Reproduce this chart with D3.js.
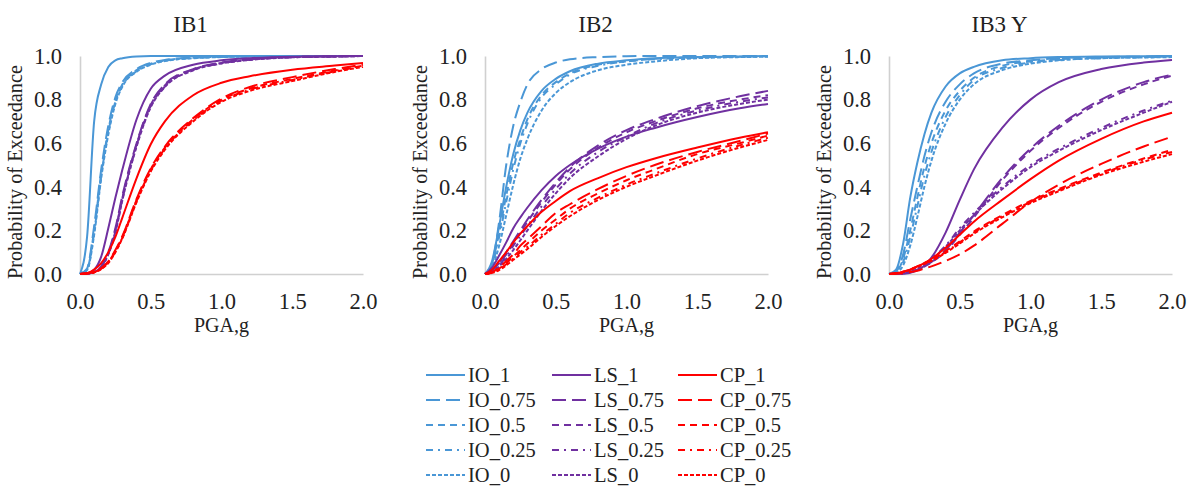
<!DOCTYPE html>
<html><head><meta charset="utf-8">
<script src="https://cdn.jsdelivr.net/npm/d3@7"></script>
<style>body{margin:0;background:#fff}svg{display:block}text{font-family:"Liberation Serif","Times New Roman",serif;fill:#222}</style>
</head><body><svg id="c" width="1196" height="488"></svg>
<script>
// ---- data ----
const pga = [0,0.05,0.1,0.15,0.2,0.25,0.3,0.4,0.5,0.6,0.8,1.0,1.2,1.5,1.8,2.0];
const titles = ["IB1","IB2","IB3 Y"];
const limitStates = ["IO","LS","CP"];
const levels = ["1","0.75","0.5","0.25","0"];
const xTicks = [0,0.5,1.0,1.5,2.0];
const yTicks = [0,0.2,0.4,0.6,0.8,1.0];

// IB1
const ib1_IO_1    = [0,0.17,0.70,0.87,0.95,0.98,0.99,0.998,1,1,1,1,1,1,1,1];
const ib1_IO_075  = [0,0.025,0.22,0.48,0.68,0.81,0.88,0.94,0.968,0.982,0.993,0.997,0.999,1,1,1];
const ib1_IO_05   = [0,0.02,0.20,0.46,0.66,0.80,0.87,0.935,0.965,0.98,0.992,0.996,0.998,1,1,1];
const ib1_IO_025  = [0,0.02,0.19,0.45,0.65,0.79,0.865,0.93,0.962,0.978,0.991,0.996,0.998,1,1,1];
const ib1_IO_0    = [0,0.018,0.18,0.44,0.64,0.78,0.86,0.928,0.96,0.977,0.99,0.995,0.998,1,1,1];
const ib1_LS_1    = [0,0.003,0.02,0.08,0.21,0.35,0.48,0.71,0.85,0.91,0.96,0.98,0.99,0.997,0.999,1];
const ib1_LS_075  = [0,0.001,0.01,0.035,0.10,0.21,0.36,0.60,0.78,0.87,0.94,0.97,0.985,0.995,0.998,1];
const ib1_LS_05   = [0,0.001,0.01,0.033,0.095,0.20,0.35,0.595,0.775,0.865,0.938,0.968,0.984,0.995,0.998,1];
const ib1_LS_025  = [0,0.001,0.009,0.032,0.092,0.195,0.345,0.59,0.77,0.86,0.936,0.967,0.983,0.994,0.998,1];
const ib1_LS_0    = [0,0.001,0.009,0.03,0.09,0.19,0.34,0.585,0.765,0.858,0.934,0.966,0.982,0.994,0.997,1];
const ib1_CP_1    = [0,0.003,0.02,0.05,0.10,0.17,0.26,0.44,0.595,0.70,0.82,0.877,0.907,0.937,0.956,0.968];
const ib1_CP_075  = [0,0.002,0.009,0.027,0.058,0.11,0.175,0.345,0.485,0.585,0.715,0.805,0.858,0.903,0.94,0.96];
const ib1_CP_05   = [0,0.002,0.008,0.025,0.055,0.105,0.17,0.34,0.48,0.58,0.71,0.80,0.85,0.895,0.933,0.955];
const ib1_CP_025  = [0,0.002,0.008,0.024,0.053,0.102,0.167,0.335,0.475,0.575,0.705,0.795,0.845,0.89,0.93,0.953];
const ib1_CP_0    = [0,0.002,0.007,0.023,0.05,0.10,0.165,0.33,0.47,0.57,0.70,0.79,0.84,0.885,0.927,0.95];

// IB2
const ib2_IO_1    = [0,0.06,0.22,0.40,0.55,0.66,0.74,0.84,0.895,0.93,0.965,0.98,0.99,0.995,0.998,1];
const ib2_IO_075  = [0,0.05,0.24,0.50,0.68,0.79,0.87,0.94,0.97,0.985,0.995,0.999,1,1,1,1];
const ib2_IO_05   = [0,0.05,0.19,0.36,0.51,0.62,0.71,0.82,0.88,0.92,0.96,0.975,0.987,0.994,0.997,0.999];
const ib2_IO_025  = [0,0.04,0.17,0.33,0.48,0.60,0.69,0.81,0.87,0.915,0.955,0.975,0.986,0.993,0.997,0.999];
const ib2_IO_0    = [0,0.03,0.13,0.27,0.41,0.53,0.62,0.75,0.83,0.88,0.935,0.96,0.975,0.99,0.995,0.997];
const ib2_LS_1    = [0,0.03,0.085,0.145,0.21,0.26,0.305,0.385,0.45,0.50,0.575,0.63,0.67,0.72,0.76,0.78];
const ib2_LS_075  = [0,0.015,0.05,0.10,0.15,0.20,0.25,0.34,0.42,0.49,0.59,0.66,0.71,0.77,0.815,0.84];
const ib2_LS_05   = [0,0.015,0.05,0.09,0.14,0.19,0.24,0.33,0.41,0.48,0.58,0.65,0.70,0.76,0.80,0.82];
const ib2_LS_025  = [0,0.012,0.04,0.08,0.13,0.175,0.22,0.31,0.39,0.46,0.56,0.63,0.69,0.75,0.79,0.81];
const ib2_LS_0    = [0,0.01,0.035,0.07,0.11,0.155,0.20,0.29,0.37,0.44,0.54,0.62,0.68,0.74,0.78,0.80];
const ib2_CP_1    = [0,0.02,0.06,0.10,0.145,0.185,0.22,0.285,0.335,0.38,0.44,0.49,0.53,0.58,0.625,0.65];
const ib2_CP_075  = [0,0.008,0.03,0.06,0.09,0.13,0.16,0.22,0.28,0.32,0.39,0.45,0.50,0.56,0.61,0.645];
const ib2_CP_05   = [0,0.007,0.025,0.05,0.08,0.11,0.14,0.20,0.25,0.30,0.37,0.43,0.48,0.55,0.60,0.635];
const ib2_CP_025  = [0,0.006,0.02,0.045,0.07,0.10,0.125,0.18,0.23,0.28,0.35,0.41,0.46,0.53,0.59,0.625];
const ib2_CP_0    = [0,0.005,0.018,0.04,0.065,0.09,0.115,0.17,0.22,0.265,0.34,0.40,0.45,0.52,0.58,0.615];

// IB3 Y
const ib3_IO_1    = [0,0.02,0.14,0.35,0.51,0.64,0.74,0.86,0.92,0.95,0.98,0.99,0.995,0.998,0.999,1];
const ib3_IO_075  = [0,0.012,0.09,0.25,0.40,0.54,0.65,0.79,0.87,0.92,0.965,0.98,0.99,0.995,0.997,0.998];
const ib3_IO_05   = [0,0.009,0.07,0.20,0.35,0.49,0.60,0.75,0.84,0.90,0.955,0.975,0.985,0.993,0.996,0.997];
const ib3_IO_025  = [0,0.007,0.055,0.17,0.31,0.45,0.56,0.72,0.82,0.89,0.945,0.97,0.982,0.99,0.994,0.996];
const ib3_IO_0    = [0,0.005,0.04,0.13,0.26,0.40,0.52,0.69,0.80,0.87,0.935,0.965,0.98,0.99,0.993,0.995];
const ib3_LS_1    = [0,0,0.002,0.006,0.017,0.038,0.075,0.19,0.34,0.48,0.67,0.80,0.88,0.94,0.97,0.982];
const ib3_LS_075  = [0,0,0.002,0.008,0.02,0.035,0.055,0.11,0.19,0.27,0.44,0.575,0.68,0.80,0.88,0.915];
const ib3_LS_05   = [0,0,0.002,0.008,0.019,0.034,0.053,0.105,0.18,0.26,0.43,0.565,0.67,0.79,0.87,0.91];
const ib3_LS_025  = [0,0,0.003,0.01,0.025,0.045,0.07,0.13,0.21,0.28,0.40,0.50,0.575,0.67,0.75,0.795];
const ib3_LS_0    = [0,0,0.003,0.01,0.024,0.043,0.067,0.125,0.20,0.27,0.39,0.49,0.565,0.66,0.74,0.79];
const ib3_CP_1    = [0,0.003,0.01,0.02,0.035,0.05,0.07,0.12,0.18,0.24,0.34,0.435,0.52,0.62,0.70,0.74];
const ib3_CP_075  = [0,0.001,0.004,0.009,0.015,0.025,0.035,0.06,0.09,0.13,0.23,0.33,0.41,0.505,0.585,0.63];
const ib3_CP_05   = [0,0.003,0.01,0.02,0.035,0.05,0.065,0.105,0.15,0.195,0.27,0.335,0.39,0.465,0.53,0.57];
const ib3_CP_025  = [0,0.003,0.01,0.02,0.034,0.048,0.063,0.10,0.145,0.19,0.265,0.33,0.385,0.46,0.525,0.56];
const ib3_CP_0    = [0,0.003,0.01,0.019,0.032,0.046,0.06,0.097,0.14,0.185,0.26,0.325,0.38,0.455,0.515,0.55];

const panelSeries = [
  {IO:[ib1_IO_1,ib1_IO_075,ib1_IO_05,ib1_IO_025,ib1_IO_0], LS:[ib1_LS_1,ib1_LS_075,ib1_LS_05,ib1_LS_025,ib1_LS_0], CP:[ib1_CP_1,ib1_CP_075,ib1_CP_05,ib1_CP_025,ib1_CP_0]},
  {IO:[ib2_IO_1,ib2_IO_075,ib2_IO_05,ib2_IO_025,ib2_IO_0], LS:[ib2_LS_1,ib2_LS_075,ib2_LS_05,ib2_LS_025,ib2_LS_0], CP:[ib2_CP_1,ib2_CP_075,ib2_CP_05,ib2_CP_025,ib2_CP_0]},
  {IO:[ib3_IO_1,ib3_IO_075,ib3_IO_05,ib3_IO_025,ib3_IO_0], LS:[ib3_LS_1,ib3_LS_075,ib3_LS_05,ib3_LS_025,ib3_LS_0], CP:[ib3_CP_1,ib3_CP_075,ib3_CP_05,ib3_CP_025,ib3_CP_0]}
];

// ---- style ----
const colors = {IO:"#4a97d6", LS:"#7030a0", CP:"#ff0000"};
const dashes = [null, "14,6", "7,5", "7,5,2,5", "4,2"];
const panelLeft = [80, 485, 889];
const plotW = 283, plotTop = 56, plotBottom = 274;
const axisColor = "#d0d0d0";

const svg = d3.select("#c");

panelSeries.forEach((ps, i) => {
  const x = d3.scaleLinear().domain([0,2]).range([panelLeft[i], panelLeft[i]+plotW]);
  const y = d3.scaleLinear().domain([0,1]).range([plotBottom, plotTop]);
  const g = svg.append("g");

  const xa = g.append("g").attr("transform",`translate(0,${plotBottom})`)
    .call(d3.axisBottom(x).tickValues(xTicks).tickFormat(d3.format(".1f")).tickSize(0).tickPadding(19));
  const ya = g.append("g").attr("transform",`translate(${panelLeft[i]},0)`)
    .call(d3.axisLeft(y).tickValues(yTicks).tickFormat(d3.format(".1f")).tickSize(0).tickPadding(18));
  [xa, ya].forEach(a => {
    a.select(".domain").attr("stroke", axisColor).attr("stroke-width", 1.6);
    a.selectAll("text").attr("font-size", 22.5).attr("fill","#222")
      .attr("font-family",'"Liberation Serif","Times New Roman",serif');
  });

  const line = d3.line().x((d,k)=>x(pga[k])).y(d=>y(d)).curve(d3.curveMonotoneX);
  limitStates.forEach(ls => {
    ps[ls].slice().reverse().forEach((vals, jr) => {
      const j = 4 - jr;
      g.append("path").datum(vals).attr("d", line)
        .attr("fill","none").attr("stroke", colors[ls]).attr("stroke-width", 2)
        .attr("stroke-dasharray", dashes[j]);
    });
  });

  const cx = (panelLeft[i] + panelLeft[i] + plotW)/2;
  g.append("text").attr("x", cx - 31).attr("y", 32).attr("text-anchor","middle")
    .attr("font-size", 23).text(titles[i]);
  g.append("text").attr("x", cx).attr("y", 332).attr("text-anchor","middle")
    .attr("font-size", 20).text("PGA,g");
  const yl = panelLeft[i] - 58;
  g.append("text").attr("transform",`translate(${yl},${(plotTop+plotBottom)/2+7}) rotate(-90)`)
    .attr("text-anchor","middle").attr("font-size", 20.3).text("Probability of Exceedance");
});

// legend
const legX = [426, 552, 678];
const legY0 = 375, legDy = 25;
limitStates.forEach((ls, c) => {
  levels.forEach((lv, r) => {
    const yy = legY0 + r*legDy;
    svg.append("line").attr("x1", legX[c]).attr("x2", legX[c]+39).attr("y1", yy).attr("y2", yy)
      .attr("stroke", colors[ls]).attr("stroke-width", 2).attr("stroke-dasharray", dashes[r]);
    svg.append("text").attr("x", legX[c]+42).attr("y", yy+7).attr("font-size", 20.5)
      .text(ls + "_" + lv);
  });
});
</script></body></html>
